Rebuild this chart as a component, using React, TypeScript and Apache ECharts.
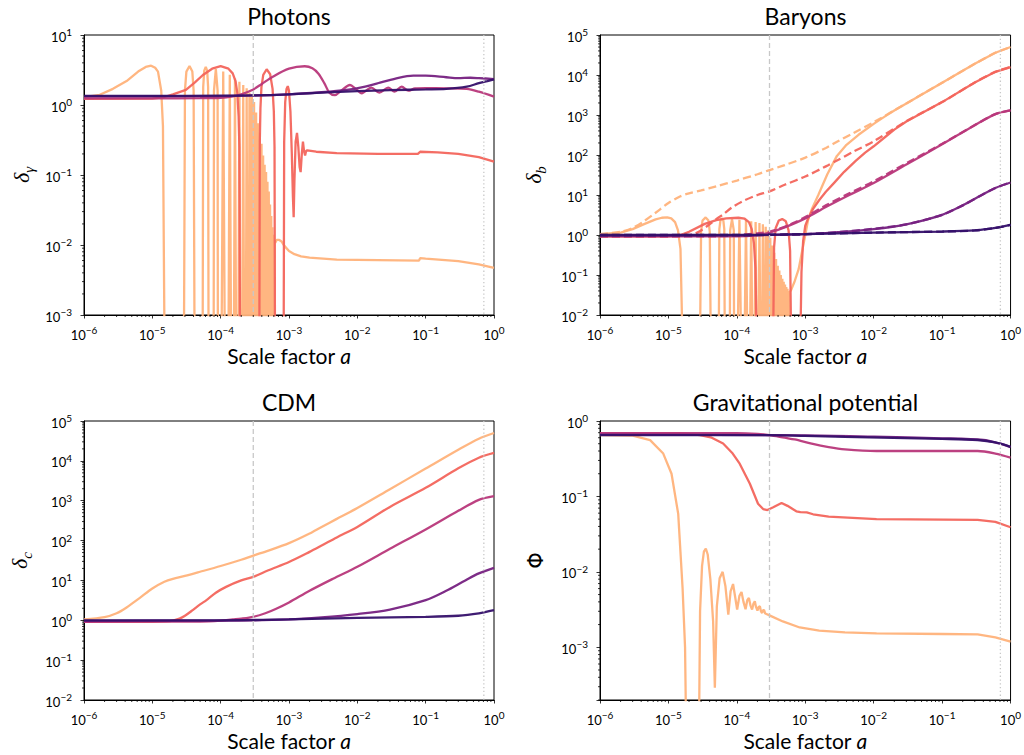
import { useEffect, useRef } from "react";
import * as echarts from "echarts";

// ---------- reference scale factors ----------
const A_EQ = 3e-4; // dashed line
const A_LAMBDA = 0.71; // dotted line

// stand-ins for non-positive values (drawn below each axis floor)
const NEG_P = 3e-4;
const NEG_B = 3e-3;
const NEG_G = 6e-5;

// ---------- Photons: delta_gamma ----------
const photonK1: [number, number][] = [
  [1e-6, 1.3], [1.7e-6, 1.4], [2.65e-6, 1.7], [4.2e-6, 2.2], [6.2e-6, 3.0], [8e-6, 3.5], [9.6e-6, 3.65], [1.1e-5, 3.4], [1.21e-5, 3.0], [1.35e-5, 1.6], [1.43e-5, 0.5], [1.51e-5, NEG_P],
  [2.9e-5, NEG_P], [3.0e-5, 1.6], [3.15e-5, 3.0], [3.5e-5, 3.6], [3.85e-5, 3.0], [4.02e-5, 1.6], [4.15e-5, NEG_P],
  [5.45e-5, NEG_P], [5.55e-5, 1.8], [5.75e-5, 3.1], [6.05e-5, 3.5], [6.35e-5, 3.1], [6.55e-5, 1.8], [6.65e-5, NEG_P],
  [7.9e-5, NEG_P], [7.98e-5, 1.6], [8.5e-5, 3.25], [9.02e-5, 1.6], [9.1e-5, NEG_P],
  [1.03e-4, NEG_P], [1.09e-4, 3.0], [1.15e-4, NEG_P],
  [1.30e-4, NEG_P], [1.36e-4, 2.7], [1.42e-4, NEG_P],
  [1.56e-4, NEG_P], [1.62e-4, 2.4], [1.68e-4, NEG_P],
  [1.82e-4, NEG_P], [1.88e-4, 2.15], [1.94e-4, NEG_P],
  [2.08e-4, NEG_P], [2.14e-4, 1.93], [2.20e-4, NEG_P],
  [2.34e-4, NEG_P], [2.40e-4, 1.73], [2.46e-4, NEG_P],
  [2.58e-4, NEG_P], [2.64e-4, 1.5], [2.70e-4, NEG_P],
  [2.80e-4, NEG_P], [2.86e-4, 1.3], [2.92e-4, NEG_P],
  [3.02e-4, NEG_P], [3.08e-4, 1.1], [3.14e-4, NEG_P],
  [3.24e-4, NEG_P], [3.30e-4, 0.78], [3.36e-4, NEG_P],
  [3.46e-4, NEG_P], [3.52e-4, 0.55], [3.58e-4, NEG_P],
  [3.68e-4, NEG_P], [3.74e-4, 0.4], [3.80e-4, NEG_P],
  [3.90e-4, NEG_P], [3.96e-4, 0.28], [4.02e-4, NEG_P],
  [4.12e-4, NEG_P], [4.18e-4, 0.19], [4.24e-4, NEG_P],
  [4.34e-4, NEG_P], [4.40e-4, 0.14], [4.46e-4, NEG_P],
  [4.56e-4, NEG_P], [4.62e-4, 0.11], [4.68e-4, NEG_P],
  [4.78e-4, NEG_P], [4.84e-4, 0.08], [4.90e-4, NEG_P],
  [5.00e-4, NEG_P], [5.06e-4, 0.058], [5.12e-4, NEG_P],
  [5.22e-4, NEG_P], [5.28e-4, 0.038], [5.34e-4, NEG_P],
  [5.44e-4, NEG_P], [5.50e-4, 0.026], [5.56e-4, NEG_P],
  [5.66e-4, NEG_P], [5.72e-4, 0.018], [5.78e-4, NEG_P],
  [5.88e-4, NEG_P], [5.94e-4, 0.014], [6.00e-4, NEG_P],
  [6.10e-4, NEG_P], [6.16e-4, 0.0118], [6.3e-4, 0.0108], [6.6e-4, 0.0118], [7.2e-4, 0.0118], [7.8e-4, 0.0112],
  [8.5e-4, 0.0098], [1.0e-3, 0.0082], [1.2e-3, 0.0074], [1.5e-3, 0.0069], [2.0e-3, 0.0066], [5e-3, 0.0062],
  [2e-2, 0.0061], [8e-2, 0.006], [8.3e-2, 0.0065], [0.1, 0.0064], [0.3, 0.0059], [0.6, 0.0053], [1, 0.0047],
];
const photonK2: [number, number][] = [
  [1e-6, 1.22], [1e-5, 1.23], [1.5e-5, 1.3], [2e-5, 1.42], [3.1e-5, 1.64], [4.2e-5, 2.1], [5.5e-5, 2.68], [7.5e-5, 3.3], [1e-4, 3.6],
  [1.3e-4, 3.3], [1.5e-4, 2.83], [1.65e-4, 2.2], [1.75e-4, 1.5], [1.83e-4, 0.7], [1.88e-4, 0.25], [1.92e-4, NEG_P],
  [3.68e-4, NEG_P], [3.74e-4, 0.3], [3.82e-4, 0.9], [3.95e-4, 1.8], [4.2e-4, 2.7], [4.71e-4, 3.24], [5.3e-4, 2.75], [5.75e-4, 1.7], [6.0e-4, 0.8], [6.14e-4, 0.25], [6.24e-4, NEG_P],
  [8.35e-4, NEG_P], [8.5e-4, 0.3], [8.8e-4, 1.1], [9.2e-4, 1.7], [9.6e-4, 1.86], [1.0e-3, 1.6], [1.05e-3, 0.8], [1.1e-3, 0.2], [1.14e-3, 0.05], [1.17e-3, 0.025],
  [1.2e-3, 0.08], [1.25e-3, 0.3], [1.31e-3, 0.4], [1.37e-3, 0.25], [1.43e-3, 0.13], [1.48e-3, 0.11], [1.54e-3, 0.2], [1.6e-3, 0.3], [1.66e-3, 0.22],
  [1.72e-3, 0.19], [1.78e-3, 0.22], [1.85e-3, 0.225], [2.5e-3, 0.215], [5e-3, 0.205], [2e-2, 0.2], [7.7e-2, 0.2], [8.3e-2, 0.215], [0.15, 0.21],
  [0.3, 0.2], [0.6, 0.18], [1, 0.155],
];
const photonK3: [number, number][] = [
  [1e-6, 1.24], [1e-5, 1.24], [5e-5, 1.25], [1e-4, 1.27], [1.5e-4, 1.33], [2e-4, 1.42], [3e-4, 1.67], [4e-4, 2.0], [5.8e-4, 2.54], [1e-3, 3.3],
  [1.7e-3, 3.58], [2.2e-3, 3.35], [2.7e-3, 2.8], [3.3e-3, 2.04], [3.9e-3, 1.5], [4.7e-3, 1.38], [5.8e-3, 1.6], [7.8e-3, 1.93], [9.5e-3, 1.7],
  [1.16e-2, 1.47], [1.6e-2, 1.77], [2.1e-2, 1.5], [2.83e-2, 1.77], [3.5e-2, 1.55], [4.46e-2, 1.83], [5.57e-2, 1.6], [7e-2, 1.72], [0.1, 1.74],
  [0.2, 1.73], [0.4, 1.7], [0.6, 1.55], [1, 1.32],
];
const photonK4: [number, number][] = [
  [1e-6, 1.33], [1e-4, 1.34], [1e-3, 1.42], [3e-3, 1.52], [7e-3, 1.64], [1.2e-2, 1.8], [2.15e-2, 2.08], [4e-2, 2.45], [6.6e-2, 2.62],
  [0.1, 2.62], [0.2, 2.49], [0.3, 2.42], [0.45, 2.45], [0.6, 2.42], [1, 2.35],
];
const photonK5: [number, number][] = [
  [1e-6, 1.35], [1e-5, 1.35], [1e-4, 1.36], [3e-4, 1.37], [1e-3, 1.42], [3e-3, 1.5], [1e-2, 1.58], [3e-2, 1.63], [0.1, 1.67], [0.2, 1.7],
  [0.4, 1.83], [0.6, 2.05], [0.8, 2.2], [1, 2.33],
];

// ---------- Baryons: delta_b ----------
const baryonK1: [number, number][] = [
  [1e-6, 1.05], [2e-6, 1.15], [3e-6, 1.4], [4.5e-6, 1.9], [6.5e-6, 2.45], [8e-6, 2.7], [9.6e-6, 2.77], [1.1e-5, 2.6], [1.25e-5, 2.1], [1.38e-5, 1.3], [1.5e-5, 0.45], [1.6e-5, NEG_B],
  [2.9e-5, NEG_B], [3.0e-5, 1.2], [3.15e-5, 2.3], [3.5e-5, 2.75], [3.85e-5, 2.3], [4.02e-5, 1.2], [4.15e-5, NEG_B],
  [5.45e-5, NEG_B], [5.55e-5, 1.4], [5.75e-5, 2.3], [6.05e-5, 2.6], [6.35e-5, 2.3], [6.55e-5, 1.4], [6.65e-5, NEG_B],
  [7.9e-5, NEG_B], [7.98e-5, 1.3], [8.5e-5, 2.5], [9.02e-5, 1.3], [9.1e-5, NEG_B],
  [1.03e-4, NEG_B], [1.09e-4, 2.4], [1.15e-4, NEG_B],
  [1.30e-4, NEG_B], [1.36e-4, 2.3], [1.42e-4, NEG_B],
  [1.56e-4, NEG_B], [1.62e-4, 2.2], [1.68e-4, NEG_B],
  [1.82e-4, NEG_B], [1.88e-4, 2.1], [1.94e-4, NEG_B],
  [2.08e-4, NEG_B], [2.14e-4, 2.0], [2.20e-4, NEG_B],
  [2.34e-4, NEG_B], [2.40e-4, 1.85], [2.46e-4, NEG_B],
  [2.58e-4, NEG_B], [2.64e-4, 1.6], [2.70e-4, NEG_B],
  [2.80e-4, NEG_B], [2.86e-4, 1.3], [2.92e-4, NEG_B],
  [3.02e-4, NEG_B], [3.08e-4, 0.85], [3.14e-4, NEG_B],
  [3.24e-4, NEG_B], [3.30e-4, 0.55], [3.36e-4, NEG_B],
  [3.46e-4, NEG_B], [3.52e-4, 0.36], [3.58e-4, NEG_B],
  [3.68e-4, NEG_B], [3.74e-4, 0.25], [3.80e-4, NEG_B],
  [3.90e-4, NEG_B], [3.96e-4, 0.17], [4.02e-4, NEG_B],
  [4.12e-4, NEG_B], [4.18e-4, 0.13], [4.24e-4, NEG_B],
  [4.34e-4, NEG_B], [4.40e-4, 0.1], [4.46e-4, NEG_B],
  [4.56e-4, NEG_B], [4.62e-4, 0.08], [4.68e-4, NEG_B],
  [4.78e-4, NEG_B], [4.84e-4, 0.068], [4.90e-4, NEG_B],
  [5.00e-4, NEG_B], [5.06e-4, 0.058], [5.12e-4, NEG_B],
  [5.22e-4, NEG_B], [5.28e-4, 0.05], [5.34e-4, NEG_B],
  [5.44e-4, NEG_B], [5.50e-4, 0.045], [5.56e-4, NEG_B],
  [5.66e-4, NEG_B], [5.72e-4, 0.04], [5.78e-4, NEG_B],
  [5.88e-4, NEG_B], [5.94e-4, 0.038], [6.2e-4, 0.042], [7e-4, 0.07], [8e-4, 0.14], [9e-4, 0.4], [1.0e-3, 1.0], [1.1e-3, 2.4],
  [1.25e-3, 4.5], [1.55e-3, 10], [2.1e-3, 33], [2.9e-3, 95], [4e-3, 180], [6e-3, 320], [1e-2, 600], [1.5e-2, 950], [2e-2, 1.3e3], [3e-2, 1.95e3],
  [0.1, 6.4e3], [0.3, 1.9e4], [0.6, 3.6e4], [1, 5e4],
];
const baryonK2: [number, number][] = [
  [1e-6, 0.92], [1e-5, 0.93], [1.5e-5, 1.0], [2e-5, 1.2], [3.4e-5, 1.9], [5e-5, 2.35], [7e-5, 2.6], [1.05e-4, 2.7], [1.3e-4, 2.55], [1.5e-4, 2.1],
  [1.65e-4, 1.4], [1.78e-4, 0.6], [1.87e-4, 0.15], [1.94e-4, NEG_B],
  [3.4e-4, NEG_B], [3.5e-4, 0.5], [3.7e-4, 1.5], [4.1e-4, 2.3], [4.6e-4, 2.5], [5.2e-4, 2.2], [5.7e-4, 1.3], [6.0e-4, 0.4], [6.2e-4, NEG_B],
  [8.5e-4, NEG_B], [8.8e-4, 0.12], [9.3e-4, 0.7], [1.0e-3, 1.7], [1.1e-3, 2.6], [1.3e-3, 4.5], [1.6e-3, 7.5], [2e-3, 12], [2.7e-3, 21], [3.7e-3, 38],
  [5.5e-3, 72], [7.5e-3, 115], [1e-2, 165], [1.5e-2, 290], [2e-2, 430], [3e-2, 690], [0.1, 2.1e3], [0.3, 6.5e3], [0.6, 1.2e4], [1, 1.58e4],
];
const baryonK3: [number, number][] = [
  [1e-6, 0.92], [1e-4, 0.93], [2e-4, 1.0], [3e-4, 1.15], [5e-4, 1.55], [1e-3, 2.6], [2e-3, 5], [4.4e-3, 10], [1e-2, 20], [3e-2, 58],
  [0.1, 185], [0.3, 555], [0.6, 1.05e3], [1, 1.3e3],
];
const baryonK4: [number, number][] = [
  [1e-6, 0.97], [1e-4, 0.98], [1e-3, 1.05], [3e-3, 1.18], [1e-2, 1.4], [3e-2, 1.85], [0.1, 3.2], [0.2, 5.5], [0.38, 10], [0.6, 15], [1, 20.5],
];
const baryonK5: [number, number][] = [
  [1e-6, 1.0], [1e-4, 1.0], [1e-3, 1.05], [1e-2, 1.15], [0.1, 1.22], [0.3, 1.3], [0.6, 1.5], [1, 1.78],
];

// ---------- CDM: delta_c ----------
const cdmK1: [number, number][] = [
  [1e-6, 1.05], [2e-6, 1.2], [3e-6, 1.5], [4.2e-6, 2.1], [6.5e-6, 3.6], [1e-5, 6.3], [1.5e-5, 9.3], [2e-5, 11], [3e-5, 13], [5e-5, 16.5],
  [1e-4, 23], [2e-4, 33], [3e-4, 42], [5e-4, 56], [1e-3, 86], [2e-3, 150], [3e-3, 220], [5e-3, 350], [1e-2, 660], [3e-2, 1.95e3], [0.1, 6.4e3], [0.3, 1.9e4],
  [0.6, 3.6e4], [1, 5e4],
];
const cdmK2: [number, number][] = [
  [1e-6, 0.92], [1e-5, 0.92], [1.6e-5, 0.94], [2e-5, 0.98], [2.5e-5, 1.1], [3e-5, 1.3], [3.9e-5, 1.8], [5e-5, 2.5], [6.2e-5, 3.2], [8.5e-5, 4.9], [1.2e-4, 6.9], [2e-4, 10], [3e-4, 12.3],
  [5e-4, 18], [1e-3, 29], [2e-3, 52], [3e-3, 75], [5e-3, 120], [1e-2, 220], [3e-2, 700], [0.1, 2.1e3], [0.3, 6.5e3], [0.6, 1.2e4], [1, 1.58e4],
];
const cdmK3: [number, number][] = [
  [1e-6, 0.92], [5e-5, 0.93], [1e-4, 0.98], [1.5e-4, 1.05], [2e-4, 1.1], [3e-4, 1.22], [4.5e-4, 1.5], [6.5e-4, 1.95], [1e-3, 2.8], [2e-3, 5.5], [4.4e-3, 11],
  [1e-2, 22], [3e-2, 62], [0.1, 190], [0.3, 560], [0.6, 1.05e3], [1, 1.3e3],
];
const cdmK4: [number, number][] = [
  [1e-6, 0.97], [1e-4, 0.98], [1e-3, 1.05], [3e-3, 1.18], [1e-2, 1.43], [3e-2, 1.85], [0.1, 3.2], [0.2, 5.5], [0.38, 10], [0.6, 15], [1, 20.7],
];
const cdmK5: [number, number][] = [
  [1e-6, 1.0], [1e-4, 1.0], [1e-3, 1.05], [1e-2, 1.15], [0.1, 1.22], [0.3, 1.3], [0.6, 1.5], [1, 1.8],
];

// ---------- Gravitational potential: Phi ----------
const phiK1: [number, number][] = [
  [1e-6, 0.65], [3e-6, 0.64], [5.4e-6, 0.557], [8.4e-6, 0.37], [1.11e-5, 0.2], [1.39e-5, 0.0586], [1.61e-5, 6.1e-3], [1.75e-5, 1e-3], [1.82e-5, NEG_G],
  [2.79e-5, NEG_G], [2.9e-5, 3e-3], [3.1e-5, 0.012], [3.3e-5, 0.0185], [3.52e-5, 0.0204], [3.75e-5, 0.017], [4.1e-5, 0.008], [4.5e-5, 2.2e-3], [4.77e-5, 2.9e-4],
  [5.1e-5, 3.5e-3], [5.6e-5, 8.2e-3], [6.2e-5, 0.0100], [6.8e-5, 6.5e-3], [7.5e-5, 2.7e-3], [8.1e-5, 5.5e-3], [8.8e-5, 6.9e-3], [9.5e-5, 4.5e-3],
  [1.01e-4, 3.16e-3], [1.09e-4, 4.8e-3], [1.17e-4, 5.4e-3], [1.25e-4, 4e-3], [1.34e-4, 3.2e-3], [1.42e-4, 4.2e-3], [1.5e-4, 4.5e-3], [1.58e-4, 3.6e-3],
  [1.67e-4, 3.16e-3], [1.75e-4, 3.8e-3], [1.83e-4, 4.07e-3], [1.91e-4, 3.4e-3], [2.0e-4, 3.06e-3], [2.08e-4, 3.4e-3], [2.17e-4, 3.5e-3],
  [2.25e-4, 3.0e-3], [2.34e-4, 2.85e-3], [2.42e-4, 3.1e-3], [2.5e-4, 3.1e-3], [2.6e-4, 2.8e-3], [2.7e-4, 2.76e-3], [3e-4, 2.65e-3],
  [4.7e-4, 2.2e-3], [8.3e-4, 1.83e-3], [1.6e-3, 1.66e-3], [3.8e-3, 1.58e-3], [1.1e-2, 1.53e-3], [0.1, 1.5e-3], [0.33, 1.48e-3], [0.6, 1.35e-3], [1, 1.19e-3],
];
const phiK2: [number, number][] = [
  [1e-6, 0.69], [1.5e-5, 0.69], [2.9e-5, 0.65], [4.3e-5, 0.6], [6.3e-5, 0.503], [8.5e-5, 0.38], [1.1e-4, 0.272], [1.55e-4, 0.147], [2.04e-4, 0.08],
  [2.42e-4, 0.068], [2.8e-4, 0.066], [3.4e-4, 0.072], [4.5e-4, 0.082], [5.5e-4, 0.075], [7.4e-4, 0.0635], [8.5e-4, 0.062], [1.05e-3, 0.0616],
  [1.3e-3, 0.058], [2.2e-3, 0.054], [1.1e-2, 0.05], [0.33, 0.049], [0.6, 0.046], [1, 0.039],
];
const phiK3: [number, number][] = [
  [1e-6, 0.69], [1e-4, 0.69], [2e-4, 0.675], [3e-4, 0.65], [5e-4, 0.6], [7e-4, 0.57], [1.24e-3, 0.5], [2.2e-3, 0.45], [3.8e-3, 0.42],
  [1.1e-2, 0.4], [0.33, 0.4], [0.6, 0.37], [1, 0.327],
];
const phiK4: [number, number][] = [
  [1e-6, 0.66], [1e-3, 0.645], [1e-2, 0.62], [0.1, 0.59], [0.4, 0.56], [0.7, 0.5], [1, 0.45],
];
const phiK5: [number, number][] = [
  [1e-6, 0.65], [3e-4, 0.65], [1e-3, 0.635], [3.8e-3, 0.617], [0.1, 0.58], [0.33, 0.56], [0.6, 0.52], [1, 0.455],
];

// ---------- axes ----------
const X_RANGE: [number, number] = [1e-6, 1];
const Y_RANGES: [number, number][] = [[1e-3, 10], [1e-2, 1e5], [1e-2, 1e5], [2e-4, 1]];
const TITLES = ["Photons", "Baryons", "CDM", "Gravitational potential"];
const Y_NAMES = ["{d|δ}{s|γ}", "{d|δ}{s|b}", "{d|δ}{s|c}", "{p|Φ}"];
const COLORS = ["#ffb27a", "#f3655c", "#b8377a", "#762181", "#35106a"];

const GRIDS = [
  { left: 84, top: 35, width: 410, height: 280 },
  { left: 600, top: 35, width: 411, height: 280 },
  { left: 84, top: 421, width: 410, height: 279 },
  { left: 600, top: 421, width: 411, height: 279 },
];

const FONT = "Lato, 'DejaVu Sans', sans-serif";

function powLabel(v: number): string {
  const e = Math.log10(v);
  const r = Math.round(e);
  if (Math.abs(e - r) > 1e-6) return "";
  return `{b|10}{e|${r < 0 ? "−" : ""}${Math.abs(r)}}`;
}

const labelRich = {
  b: { fontSize: 13, fontFamily: FONT, color: "#000", lineHeight: 16, verticalAlign: "bottom" },
  e: { fontSize: 10, fontFamily: FONT, color: "#000", lineHeight: 8, verticalAlign: "top" },
};

function minorValues(lo: number, hi: number): number[] {
  const out: number[] = [];
  const e0 = Math.floor(Math.log10(lo));
  const e1 = Math.ceil(Math.log10(hi));
  for (let e = e0; e < e1; e++) {
    for (let m = 2; m <= 9; m++) {
      const v = m * Math.pow(10, e);
      if (v >= lo * 0.999 && v <= hi * 1.001) out.push(v);
    }
  }
  return out;
}

function lineSeries(grid: number, data: [number, number][], color: string, dashed = false, smooth = false) {
  return {
    type: "line",
    xAxisIndex: grid,
    yAxisIndex: grid,
    data,
    symbol: "none",
    showSymbol: false,
    clip: true,
    silent: true,
    animation: false,
    smooth: smooth ? 0.3 : false,
    lineStyle: { color, width: 2.3, type: dashed ? [8, 4] : "solid", opacity: 0.95 },
    emphasis: { disabled: true },
  };
}

function refLine(grid: number, at: number, dash: number[]) {
  return {
    type: "custom",
    xAxisIndex: grid,
    yAxisIndex: grid,
    clip: false,
    silent: true,
    z: 9,
    data: [[at, 1]],
    renderItem: (params: any, api: any) => {
      const p = api.coord([api.value(0), api.value(1)]);
      const cs = params.coordSys;
      return {
        type: "line",
        shape: { x1: p[0], y1: cs.y, x2: p[0], y2: cs.y + cs.height },
        style: { stroke: "#c8c8c8", lineWidth: 1.3, lineDash: dash },
      };
    },
  };
}

function minorTicks(grid: number, axis: "x" | "y", values: number[]) {
  return {
    type: "custom",
    xAxisIndex: grid,
    yAxisIndex: grid,
    clip: false,
    silent: true,
    z: 6,
    data: values.map((v) => (axis === "x" ? [v, 1] : [1e-3, v])),
    renderItem: (params: any, api: any) => {
      const p = api.coord([api.value(0), api.value(1)]);
      const cs = params.coordSys;
      if (axis === "x") {
        const yb = cs.y + cs.height;
        return { type: "line", shape: { x1: p[0], y1: yb, x2: p[0], y2: yb + 2 }, style: { stroke: "#000", lineWidth: 0.8 } };
      }
      return { type: "line", shape: { x1: cs.x, y1: p[1], x2: cs.x - 2, y2: p[1] }, style: { stroke: "#000", lineWidth: 0.8 } };
    },
  };
}

export default function App() {
  const ref = useRef<HTMLDivElement>(null);

  useEffect(() => {
    if (!ref.current) return;
    const chart = echarts.init(ref.current, undefined, { renderer: "svg" });

    const nameGaps = [48, 52, 50, 52];

    const xAxis = GRIDS.map((_, i) => ({
      type: "log",
      logBase: 10,
      gridIndex: i,
      min: X_RANGE[0],
      max: X_RANGE[1],
      axisLine: { show: true, onZero: false, lineStyle: { color: "#000", width: 1 } },
      axisTick: { show: true, length: 3.5, lineStyle: { color: "#000", width: 0.8 } },
      splitLine: { show: false },
      minorTick: { show: false },
      axisLabel: { formatter: powLabel, rich: labelRich, margin: 10, interval: 0, showMinLabel: true, showMaxLabel: true },
      name: "Scale factor {i|a}",
      nameLocation: "middle",
      nameGap: 30,
      nameTextStyle: {
        fontSize: 21,
        fontFamily: FONT,
        color: "#000",
        rich: { i: { fontSize: 21, fontFamily: FONT, fontStyle: "italic", color: "#000" } },
      },
    }));

    const yAxis = GRIDS.map((_, i) => ({
      type: "log",
      logBase: 10,
      gridIndex: i,
      min: Y_RANGES[i][0],
      max: Y_RANGES[i][1],
      axisLine: { show: true, onZero: false, lineStyle: { color: "#000", width: 1 } },
      axisTick: { show: true, length: 3.5, lineStyle: { color: "#000", width: 0.8 } },
      splitLine: { show: false },
      minorTick: { show: false },
      axisLabel: { formatter: powLabel, rich: labelRich, margin: 12, interval: 0, showMinLabel: true, showMaxLabel: true },
      name: Y_NAMES[i],
      nameLocation: "middle",
      nameRotate: 90,
      nameGap: nameGaps[i],
      nameTextStyle: {
        color: "#000",
        rich: {
          d: { fontSize: 22, fontFamily: "'Liberation Serif', serif", fontStyle: "italic", color: "#000", lineHeight: 26, verticalAlign: "top" },
          s: { fontSize: 15, fontFamily: "'Liberation Serif', serif", fontStyle: "italic", color: "#000", lineHeight: 10, verticalAlign: "bottom" },
          p: { fontSize: 21, fontFamily: "'DejaVu Sans', sans-serif", color: "#000", lineHeight: 24 },
        },
      },
    }));

    const panels: [number, number][][][] = [
      [photonK1, photonK2, photonK3, photonK4, photonK5],
      [baryonK1, baryonK2, baryonK3, baryonK4, baryonK5],
      [cdmK1, cdmK2, cdmK3, cdmK4, cdmK5],
      [phiK1, phiK2, phiK3, phiK4, phiK5],
    ];
    const cdmSet = panels[2];
    // curves with sign changes / sharp oscillations are drawn unsmoothed
    const rough = new Set<[number, number][]>([photonK1, photonK2, baryonK1, baryonK2, phiK1, phiK2]);

    const series: any[] = [];
    panels.forEach((curves, g) => {
      curves.forEach((data, k) => {
        series.push(lineSeries(g, data, COLORS[k], false, !rough.has(data)));
        if (g === 1) series.push(lineSeries(g, cdmSet[k], COLORS[k], true, true));
      });
      series.push(refLine(g, A_EQ, [5, 3]));
      series.push(refLine(g, A_LAMBDA, [1.3, 2.5]));
      series.push(minorTicks(g, "x", minorValues(X_RANGE[0], X_RANGE[1])));
      series.push(minorTicks(g, "y", minorValues(Y_RANGES[g][0], Y_RANGES[g][1])));
    });

    const titleY = [16, 16, 402, 402];
    const graphic = TITLES.map((t, i) => ({
      type: "text",
      x: GRIDS[i].left + GRIDS[i].width / 2,
      y: titleY[i],
      style: { text: t, fontSize: 23, fontFamily: FONT, fill: "#000", align: "center", verticalAlign: "middle" },
    }));

    chart.setOption({
      animation: false,
      backgroundColor: "#ffffff",
      grid: GRIDS.map((g) => ({ ...g, show: true, borderColor: "#000", borderWidth: 1, backgroundColor: "transparent", containLabel: false })),
      xAxis,
      yAxis,
      series,
      graphic,
    });

    return () => chart.dispose();
  }, []);

  return <div ref={ref} style={{ position: "fixed", left: 0, top: 0, width: 1024, height: 755 }} />;
}
